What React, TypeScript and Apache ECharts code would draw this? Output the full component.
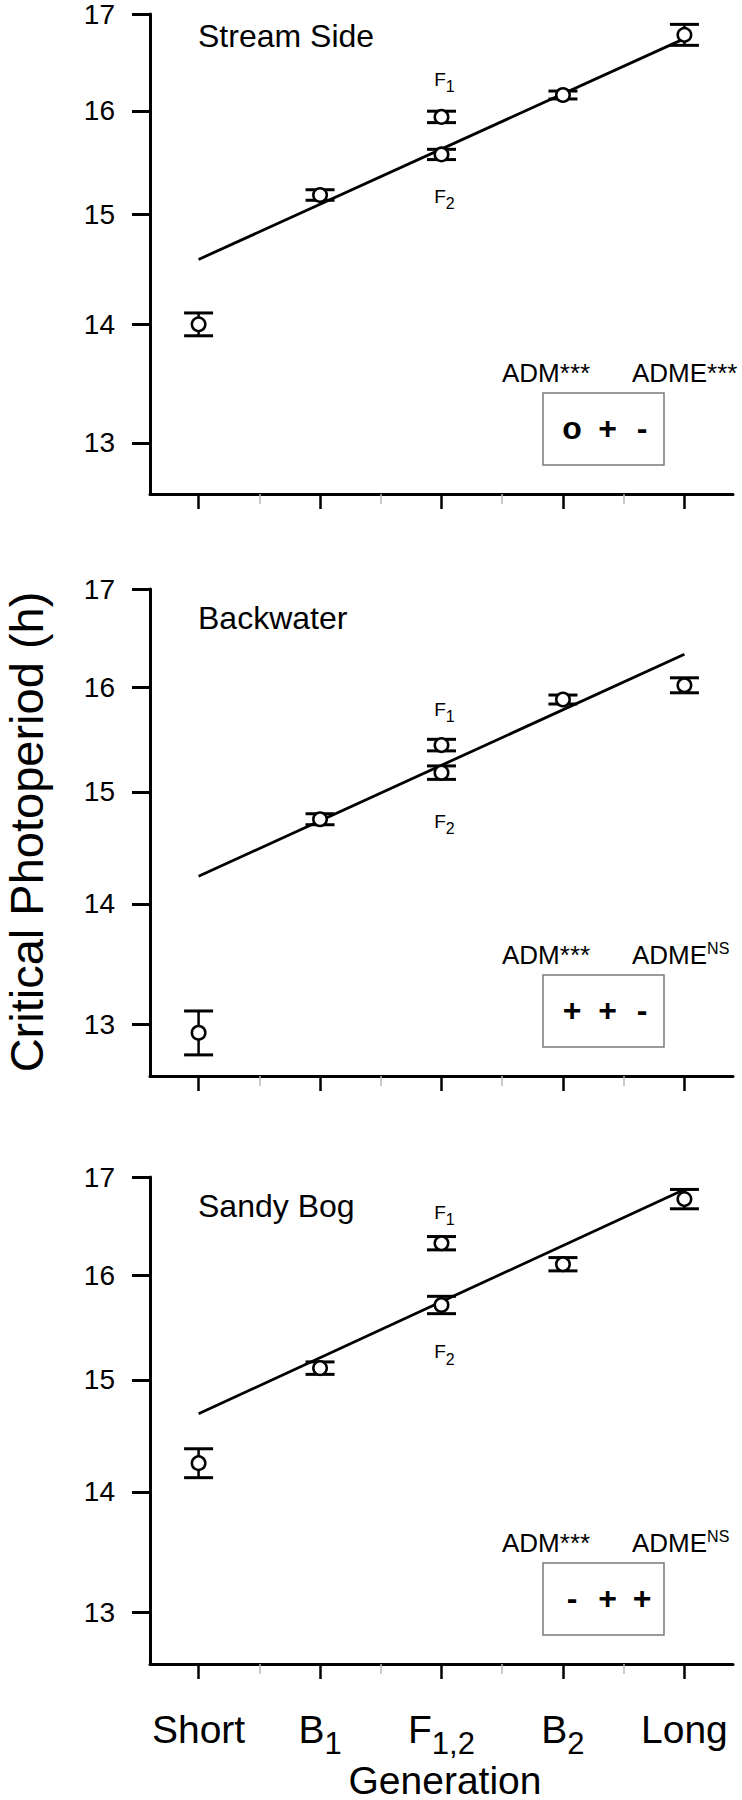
import React, { useEffect, useRef } from 'react';
import * as echarts from 'echarts';

// ---------- data ----------
const generationMain = ['Short', 'B', 'F', 'B', 'Long'];
const generationSub = ['', '1', '1,2', '2', ''];
const generationX = [0, 1, 2, 3, 4];
const minorTickX = [0.5, 1.5, 2.5, 3.5];
const pointNames = ['Short', 'B1', 'F1', 'F2', 'B2', 'Long'];
const pointX = [0, 1, 2, 2, 3, 4];
const yTickValues = [13, 14, 15, 16, 17];
const yMin = 12.59;
const yMax = 17;

const streamSideMean = [14.0, 15.18, 15.94, 15.57, 16.16, 16.78];
const streamSideErr = [0.1, 0.05, 0.057, 0.05, 0.04, 0.11];
const streamSideFit = [14.58, 16.74];

const backwaterMean = [12.93, 14.75, 15.44, 15.18, 15.88, 16.02];
const backwaterErr = [0.175, 0.05, 0.055, 0.063, 0.044, 0.074];
const backwaterFit = [14.24, 16.33];

const sandyBogMean = [14.25, 15.11, 16.32, 15.71, 16.11, 16.77];
const sandyBogErr = [0.127, 0.058, 0.067, 0.084, 0.066, 0.1];
const sandyBogFit = [14.69, 16.87];

const panelNames = ['Stream Side', 'Backwater', 'Sandy Bog'];
const admSig = ['***', '***', '***'];
const admeSig = ['***', 'NS', 'NS'];
const effectSigns = [
  ['o', '+', '-'],
  ['+', '+', '-'],
  ['-', '+', '+'],
];

const panelMeans = [streamSideMean, backwaterMean, sandyBogMean];
const panelErrs = [streamSideErr, backwaterErr, sandyBogErr];
const panelFits = [streamSideFit, backwaterFit, sandyBogFit];

// ---------- layout / style ----------
const FONT = "'Liberation Sans', Arial, Helvetica, sans-serif";
const GRID_LEFT = 150;
const GRID_WIDTH = 583;
const GRID_HEIGHT = 487;
const panelTops = [7, 589, 1177];
const f1Distance = [14, 12.5, 7.5];
const f2Distance = [18.5, 25, 23.5];
const signX = [572, 607.5, 642];

const LN = Math.log;

function renderErrorBar(params: any, api: any) {
  const x = api.value(0);
  const lo = api.value(2);
  const hi = api.value(3);
  const pLo = api.coord([x, lo]);
  const pHi = api.coord([x, hi]);
  const hw = 14.5;
  const st = { stroke: '#000', lineWidth: 3 };
  return {
    type: 'group',
    children: [
      { type: 'line', shape: { x1: pLo[0], y1: pLo[1], x2: pHi[0], y2: pHi[1] }, style: { stroke: '#000', lineWidth: 2.5 } },
      { type: 'line', shape: { x1: pHi[0] - hw, y1: pHi[1], x2: pHi[0] + hw, y2: pHi[1] }, style: st },
      { type: 'line', shape: { x1: pLo[0] - hw, y1: pLo[1], x2: pLo[0] + hw, y2: pLo[1] }, style: st },
    ],
  };
}

const fRich = {
  f: { fontSize: 19, lineHeight: 31, fontFamily: FONT, color: '#000' },
  s: { fontSize: 16, lineHeight: 16, verticalAlign: 'bottom', fontFamily: FONT, color: '#000' },
};

function buildOption() {
  const grid = panelTops.map((t) => ({ left: GRID_LEFT, top: t, width: GRID_WIDTH, height: GRID_HEIGHT }));
  const xAxis: any[] = [];
  const yAxis: any[] = [];
  const series: any[] = [];
  const graphic: any[] = [];

  panelTops.forEach((T, i) => {
    xAxis.push({
      type: 'value',
      gridIndex: i,
      min: -0.4,
      max: 4.4,
      position: 'bottom',
      axisLine: { show: true, onZero: false, lineStyle: { color: '#000', width: 3 } },
      axisTick: { show: true, customValues: generationX, length: 15, lineStyle: { color: '#000', width: 2.5 } },
      axisLabel: {
        show: i === 2,
        customValues: generationX,
        margin: 35,
        formatter: (v: number) => {
          const k = Math.round(v);
          const sub = generationSub[k];
          return sub ? `{m|${generationMain[k]}}{s|${sub}}` : `{m|${generationMain[k]}}`;
        },
        rich: {
          m: { fontSize: 39, lineHeight: 60, fontFamily: FONT, color: '#000' },
          s: { fontSize: 31, lineHeight: 28, verticalAlign: 'bottom', fontFamily: FONT, color: '#000' },
        },
      },
      splitLine: { show: false },
    });
    xAxis.push({
      type: 'value',
      gridIndex: i,
      min: -0.4,
      max: 4.4,
      position: 'bottom',
      axisLine: { show: false, onZero: false },
      axisTick: { show: true, customValues: minorTickX, length: 10, lineStyle: { color: '#b8b8b8', width: 1.5 } },
      axisLabel: { show: false },
      splitLine: { show: false },
    });
    yAxis.push({
      type: 'value',
      gridIndex: i,
      min: LN(yMin),
      max: LN(yMax),
      axisLine: { show: true, onZero: false, lineStyle: { color: '#000', width: 3 } },
      axisTick: { show: true, customValues: yTickValues.map(LN), length: 18, lineStyle: { color: '#000', width: 3 } },
      axisLabel: {
        show: true,
        customValues: yTickValues.map(LN),
        formatter: (v: number) => String(Math.round(Math.exp(v))),
        fontSize: 28,
        fontFamily: FONT,
        color: '#000',
        margin: 35,
        padding: [12, 0, 0, 0],
      },
      splitLine: { show: false },
    });

    const mean = panelMeans[i];
    const err = panelErrs[i];
    const fit = panelFits[i];

    series.push({
      type: 'line',
      xAxisIndex: 2 * i,
      yAxisIndex: i,
      data: [
        [generationX[0], LN(fit[0])],
        [generationX[4], LN(fit[1])],
      ],
      symbol: 'none',
      lineStyle: { color: '#000', width: 2.8 },
      silent: true,
      z: 2,
    });
    series.push({
      type: 'custom',
      xAxisIndex: 2 * i,
      yAxisIndex: i,
      renderItem: renderErrorBar,
      encode: { x: 0, y: 1 },
      data: mean.map((m, k) => [pointX[k], LN(m), LN(m - err[k]), LN(m + err[k])]),
      silent: true,
      z: 3,
    });
    series.push({
      type: 'scatter',
      xAxisIndex: 2 * i,
      yAxisIndex: i,
      symbol: 'circle',
      symbolSize: 13.5,
      itemStyle: { color: '#fff', borderColor: '#000', borderWidth: 2.5, opacity: 1 },
      label: { show: false },
      data: mean.map((m, k) => {
        const item: any = { name: pointNames[k], value: [pointX[k], LN(m)] };
        if (pointNames[k] === 'F1') {
          item.label = { show: true, position: 'top', distance: f1Distance[i], offset: [3, 0], formatter: '{f|F}{s|1}', rich: fRich };
        } else if (pointNames[k] === 'F2') {
          item.label = { show: true, position: 'bottom', distance: f2Distance[i], offset: [3, 0], formatter: '{f|F}{s|2}', rich: fRich };
        }
        return item;
      }),
      silent: true,
      z: 4,
    });

    // panel name
    graphic.push({
      type: 'text',
      x: 198,
      y: T + 28.5,
      style: { text: panelNames[i], fontSize: 32, fontFamily: FONT, fill: '#000', align: 'left', verticalAlign: 'middle' },
    });
    const sigRich = (sig: string) =>
      sig === 'NS'
        ? { fontSize: 16, lineHeight: 16, verticalAlign: 'top', fontFamily: FONT, color: '#000' }
        : { fontSize: 26, lineHeight: 30, fontFamily: FONT, color: '#000' };
    graphic.push({
      type: 'text',
      x: 502,
      y: T + 366,
      style: {
        text: `{a|ADM}{n|${admSig[i]}}`,
        rich: { a: { fontSize: 26, lineHeight: 30, fontFamily: FONT, color: '#000' }, n: sigRich(admSig[i]) },
        align: 'left',
        verticalAlign: 'middle',
      },
    });
    graphic.push({
      type: 'text',
      x: 632,
      y: T + 366,
      style: {
        text: `{a|ADME}{n|${admeSig[i]}}`,
        rich: { a: { fontSize: 26, lineHeight: 30, fontFamily: FONT, color: '#000' }, n: sigRich(admeSig[i]) },
        align: 'left',
        verticalAlign: 'middle',
      },
    });
    graphic.push({
      type: 'rect',
      shape: { x: 543, y: T + 386, width: 121, height: 72 },
      style: { fill: '#fff', stroke: '#7a7a7a', lineWidth: 1.5 },
    });
    effectSigns[i].forEach((s, j) => {
      graphic.push({
        type: 'text',
        x: signX[j],
        y: T + 421,
        style: { text: s, fontSize: 32, fontWeight: 'bold', fontFamily: FONT, fill: '#000', align: 'center', verticalAlign: 'middle' },
      });
    });
  });

  graphic.push({
    type: 'text',
    x: 26,
    y: 832,
    rotation: Math.PI / 2,
    style: { text: 'Critical Photoperiod (h)', fontSize: 47, fontFamily: FONT, fill: '#000', align: 'center', verticalAlign: 'middle' },
  });
  graphic.push({
    type: 'text',
    x: 445,
    y: 1780,
    style: { text: 'Generation', fontSize: 39, fontFamily: FONT, fill: '#000', align: 'center', verticalAlign: 'middle' },
  });

  return {
    animation: false,
    backgroundColor: '#fff',
    grid,
    xAxis,
    yAxis,
    series,
    graphic,
  };
}

export default function App() {
  const ref = useRef<HTMLDivElement>(null);
  useEffect(() => {
    if (!ref.current) return;
    const chart = echarts.init(ref.current, undefined, { renderer: 'svg' });
    chart.setOption(buildOption() as any);
    return () => chart.dispose();
  }, []);
  return <div ref={ref} style={{ position: 'absolute', left: 0, top: 0, width: 742, height: 1800, background: '#fff' }} />;
}
